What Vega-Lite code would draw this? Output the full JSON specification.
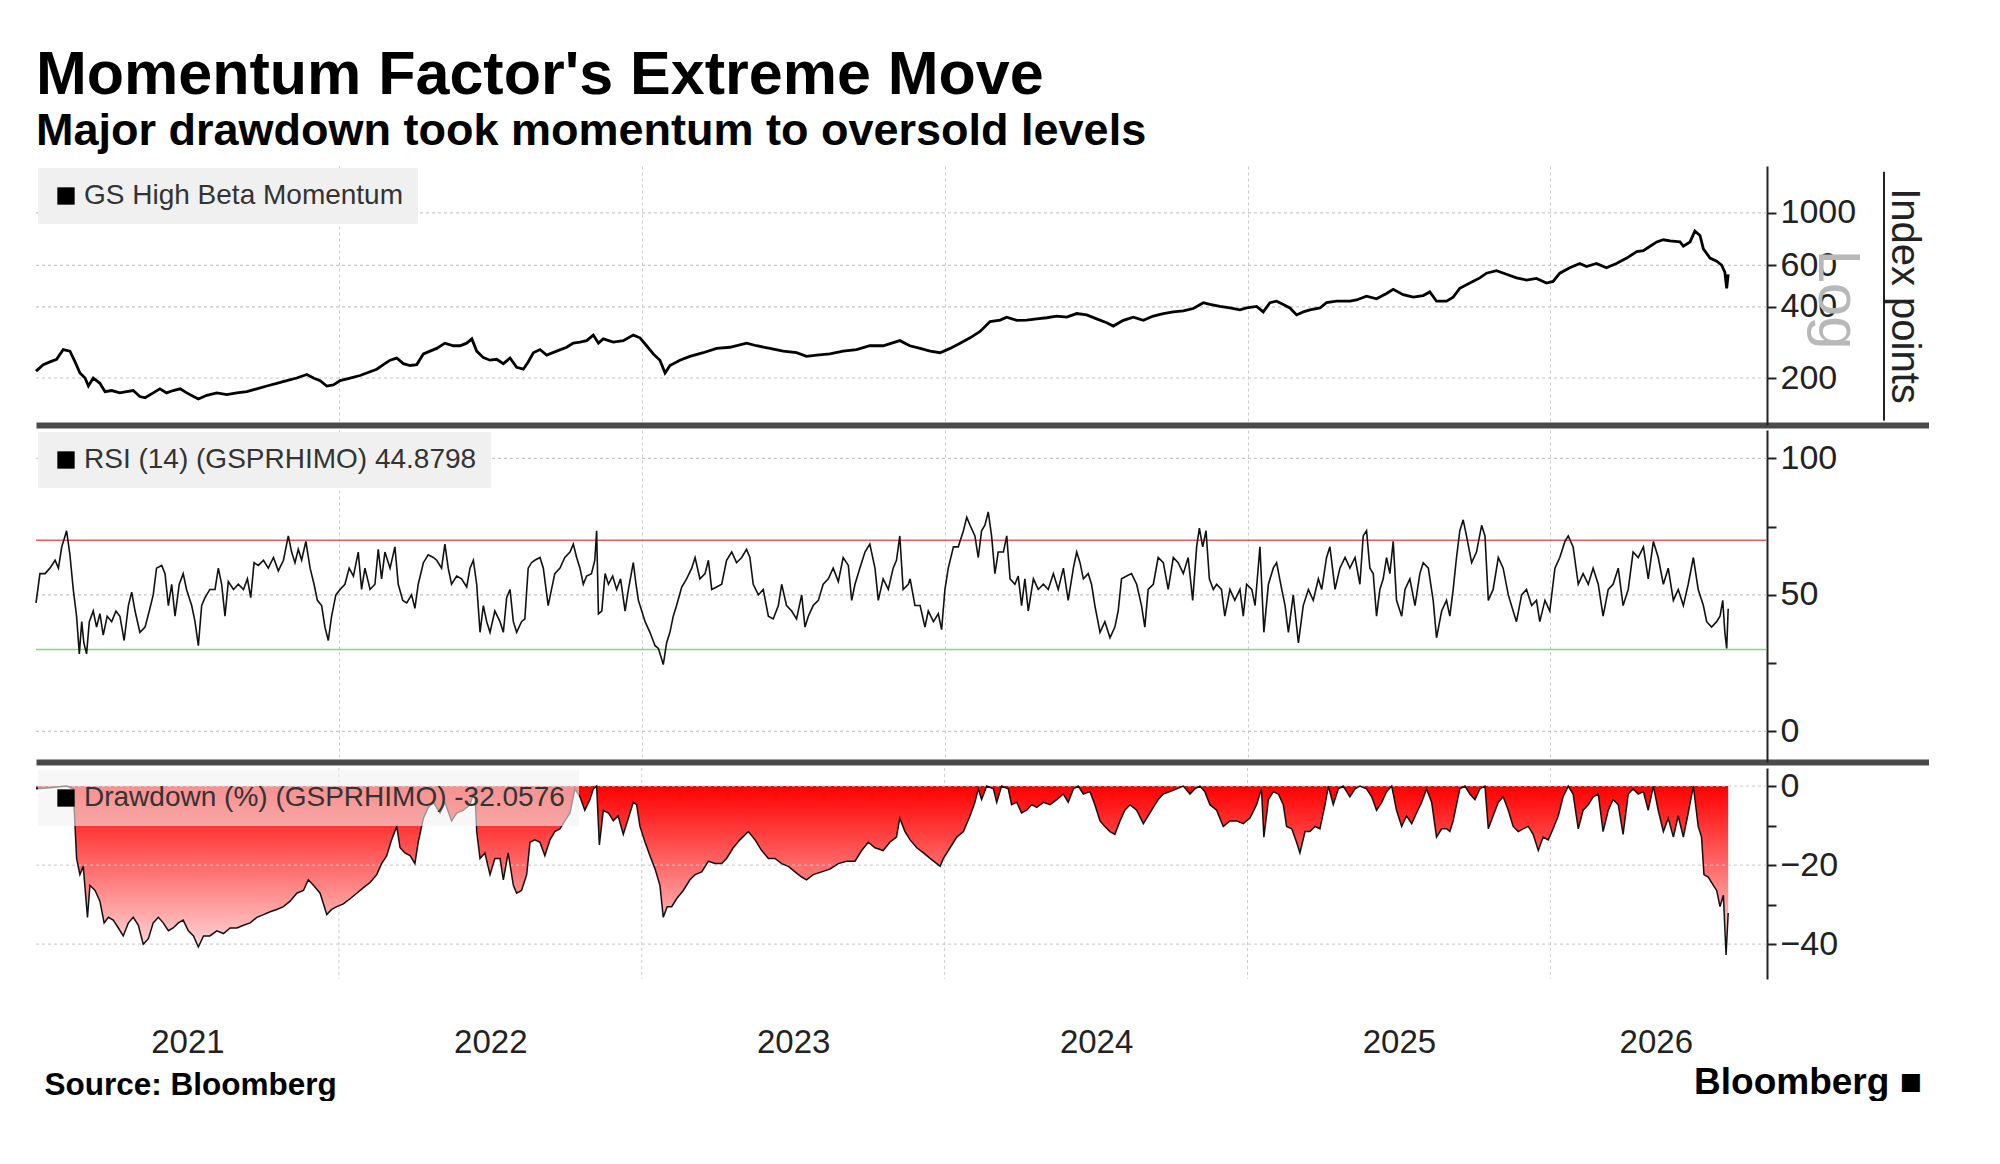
{
  "$schema": "https://vega.github.io/schema/vega-lite/v6.json",
  "background": "white",
  "padding": {"left": 30, "top": 45, "right": 0, "bottom": 0},
  "title": {
    "text": "Momentum Factor's Extreme Move",
    "subtitle": "Major drawdown took momentum to oversold levels",
    "anchor": "start",
    "frame": "group",
    "font": "Liberation Sans",
    "fontSize": 61,
    "fontWeight": "bold",
    "color": "#000000",
    "subtitleFont": "Liberation Sans",
    "subtitleFontSize": 45,
    "subtitleFontWeight": "bold",
    "subtitleColor": "#000000",
    "subtitlePadding": 2,
    "offset": 11
  },
  "datasets": {
    "price": [
      {"t":2021.000,"v":214},{"t":2021.024,"v":228},{"t":2021.046,"v":234},{"t":2021.068,"v":240},{"t":2021.090,"v":264},{"t":2021.112,"v":260},{"t":2021.129,"v":234},{"t":2021.145,"v":210},{"t":2021.162,"v":200},{"t":2021.173,"v":185},{"t":2021.189,"v":200},{"t":2021.211,"v":190},{"t":2021.228,"v":175},{"t":2021.250,"v":177},{"t":2021.277,"v":173},{"t":2021.299,"v":175},{"t":2021.321,"v":177},{"t":2021.343,"v":167},{"t":2021.360,"v":165},{"t":2021.387,"v":173},{"t":2021.409,"v":180},{"t":2021.431,"v":173},{"t":2021.453,"v":177},{"t":2021.476,"v":180},{"t":2021.498,"v":173},{"t":2021.520,"v":167},{"t":2021.536,"v":163},{"t":2021.564,"v":169},{"t":2021.597,"v":173},{"t":2021.630,"v":170},{"t":2021.663,"v":173},{"t":2021.696,"v":175},{"t":2021.729,"v":180},{"t":2021.762,"v":185},{"t":2021.795,"v":190},{"t":2021.828,"v":195},{"t":2021.861,"v":200},{"t":2021.894,"v":207},{"t":2021.916,"v":200},{"t":2021.938,"v":195},{"t":2021.960,"v":185},{"t":2021.982,"v":187},{"t":2022.004,"v":195},{"t":2022.037,"v":200},{"t":2022.070,"v":205},{"t":2022.092,"v":210},{"t":2022.125,"v":218},{"t":2022.147,"v":228},{"t":2022.169,"v":238},{"t":2022.191,"v":243},{"t":2022.213,"v":230},{"t":2022.235,"v":226},{"t":2022.257,"v":228},{"t":2022.279,"v":253},{"t":2022.301,"v":260},{"t":2022.323,"v":267},{"t":2022.350,"v":281},{"t":2022.378,"v":274},{"t":2022.400,"v":274},{"t":2022.422,"v":281},{"t":2022.439,"v":293},
      {"t":2022.455,"v":260},{"t":2022.477,"v":244},{"t":2022.499,"v":238},{"t":2022.521,"v":240},{"t":2022.543,"v":230},{"t":2022.565,"v":243},{"t":2022.587,"v":222},{"t":2022.609,"v":218},{"t":2022.625,"v":234},{"t":2022.642,"v":256},{"t":2022.664,"v":264},{"t":2022.686,"v":250},{"t":2022.719,"v":260},{"t":2022.752,"v":270},{"t":2022.774,"v":281},{"t":2022.796,"v":284},{"t":2022.818,"v":288},{"t":2022.840,"v":304},{"t":2022.857,"v":281},{"t":2022.873,"v":293},{"t":2022.906,"v":284},{"t":2022.939,"v":288},{"t":2022.972,"v":304},{"t":2022.994,"v":296},{"t":2023.016,"v":274},{"t":2023.038,"v":253},{"t":2023.060,"v":238},{"t":2023.077,"v":210},{"t":2023.093,"v":226},{"t":2023.126,"v":238},{"t":2023.159,"v":247},{"t":2023.203,"v":256},{"t":2023.247,"v":267},{"t":2023.291,"v":270},{"t":2023.346,"v":281},{"t":2023.379,"v":274},{"t":2023.423,"v":267},{"t":2023.467,"v":260},{"t":2023.511,"v":256},{"t":2023.544,"v":247},{"t":2023.577,"v":250},{"t":2023.621,"v":253},{"t":2023.665,"v":260},{"t":2023.709,"v":264},{"t":2023.753,"v":274},{"t":2023.797,"v":274},{"t":2023.852,"v":288},{"t":2023.885,"v":274},
      {"t":2023.919,"v":267},{"t":2023.952,"v":260},{"t":2023.985,"v":256},{"t":2024.018,"v":267},{"t":2024.051,"v":281},{"t":2024.084,"v":296},{"t":2024.117,"v":315},{"t":2024.150,"v":347},{"t":2024.183,"v":352},{"t":2024.205,"v":362},{"t":2024.238,"v":351},{"t":2024.271,"v":352},{"t":2024.304,"v":356},{"t":2024.337,"v":360},{"t":2024.370,"v":366},{"t":2024.403,"v":362},{"t":2024.436,"v":375},{"t":2024.469,"v":370},{"t":2024.502,"v":356},{"t":2024.535,"v":343},{"t":2024.557,"v":332},{"t":2024.590,"v":351},{"t":2024.623,"v":362},{"t":2024.656,"v":351},{"t":2024.689,"v":366},{"t":2024.722,"v":375},{"t":2024.755,"v":381},{"t":2024.788,"v":385},{"t":2024.821,"v":394},{"t":2024.854,"v":417},{"t":2024.876,"v":410},{"t":2024.909,"v":402},{"t":2024.942,"v":396},{"t":2024.975,"v":389},{"t":2024.997,"v":396},{"t":2025.030,"v":402},{"t":2025.052,"v":381},{"t":2025.074,"v":417},{"t":2025.096,"v":423},{"t":2025.118,"v":410},{"t":2025.140,"v":396},{"t":2025.162,"v":370},{"t":2025.184,"v":381},{"t":2025.206,"v":389},{"t":2025.239,"v":396},{"t":2025.261,"v":417},{"t":2025.294,"v":423},{"t":2025.316,"v":423},
      {"t":2025.338,"v":423},{"t":2025.360,"v":428},{"t":2025.393,"v":444},{"t":2025.426,"v":433},{"t":2025.459,"v":456},{"t":2025.481,"v":475},{"t":2025.514,"v":451},{"t":2025.547,"v":440},{"t":2025.580,"v":447},{"t":2025.602,"v":463},{"t":2025.624,"v":423},{"t":2025.657,"v":423},{"t":2025.679,"v":440},{"t":2025.701,"v":480},{"t":2025.734,"v":505},{"t":2025.767,"v":531},{"t":2025.789,"v":556},{"t":2025.822,"v":570},{"t":2025.855,"v":550},{"t":2025.888,"v":531},{"t":2025.921,"v":520},{"t":2025.954,"v":528},{"t":2025.987,"v":505},{"t":2026.009,"v":513},{"t":2026.031,"v":556},{"t":2026.064,"v":586},{"t":2026.097,"v":611},{"t":2026.119,"v":593},{"t":2026.152,"v":611},{"t":2026.185,"v":586},{"t":2026.218,"v":611},{"t":2026.252,"v":644},{"t":2026.285,"v":686},{"t":2026.307,"v":693},{"t":2026.329,"v":723},{"t":2026.351,"v":754},{"t":2026.373,"v":770},{"t":2026.395,"v":762},{"t":2026.428,"v":754},{"t":2026.439,"v":723},{"t":2026.461,"v":754},{"t":2026.477,"v":838},{"t":2026.494,"v":803},{"t":2026.505,"v":705},{"t":2026.527,"v":644},{"t":2026.549,"v":625},{"t":2026.565,"v":602},{"t":2026.576,"v":562},{"t":2026.582,"v":480},{"t":2026.587,"v":550}
    ],
    "rsi": [
      {"t":2021.000,"v":47.1},{"t":2021.013,"v":57.8},{"t":2021.030,"v":57.8},{"t":2021.046,"v":59.8},{"t":2021.063,"v":62.7},{"t":2021.074,"v":59.8},{"t":2021.085,"v":67.6},{"t":2021.096,"v":71.6},{"t":2021.101,"v":73.5},{"t":2021.112,"v":64.7},{"t":2021.123,"v":52.0},{"t":2021.134,"v":42.2},{"t":2021.143,"v":28.4},{"t":2021.151,"v":40.2},{"t":2021.158,"v":32.4},{"t":2021.167,"v":28.4},{"t":2021.176,"v":40.2},{"t":2021.189,"v":44.1},{"t":2021.200,"v":38.2},{"t":2021.211,"v":43.1},{"t":2021.222,"v":35.3},{"t":2021.235,"v":42.2},{"t":2021.250,"v":40.2},{"t":2021.264,"v":44.1},{"t":2021.277,"v":42.2},{"t":2021.291,"v":33.3},{"t":2021.305,"v":46.1},{"t":2021.316,"v":51.0},{"t":2021.327,"v":44.1},{"t":2021.343,"v":36.3},{"t":2021.360,"v":38.2},{"t":2021.374,"v":44.1},{"t":2021.387,"v":50.0},{"t":2021.398,"v":59.8},{"t":2021.415,"v":60.8},{"t":2021.426,"v":57.8},{"t":2021.437,"v":46.1},{"t":2021.448,"v":53.9},{"t":2021.459,"v":42.2},{"t":2021.473,"v":53.9},{"t":2021.486,"v":57.8},{"t":2021.497,"v":52.0},{"t":2021.514,"v":46.1},{"t":2021.525,"v":40.2},{"t":2021.536,"v":31.4},{"t":2021.547,"v":46.1},{"t":2021.558,"v":49.0},{"t":2021.574,"v":52.0},{"t":2021.591,"v":52.0},{"t":2021.602,"v":59.8},{"t":2021.613,"v":53.9},{"t":2021.624,"v":42.2},{"t":2021.635,"v":54.9},{"t":2021.652,"v":52.0},{"t":2021.668,"v":53.9},{"t":2021.685,"v":52.0},{"t":2021.698,"v":55.9},{"t":2021.709,"v":49.0},{"t":2021.720,"v":61.8},{"t":2021.734,"v":60.8},{"t":2021.751,"v":62.7},{"t":2021.767,"v":59.8},{"t":2021.784,"v":63.7},{"t":2021.800,"v":58.8},{"t":2021.817,"v":62.7},{"t":2021.833,"v":71.6},{"t":2021.844,"v":65.7},{"t":2021.855,"v":61.8},{"t":2021.866,"v":66.7},{"t":2021.877,"v":62.7},{"t":2021.891,"v":69.6},{"t":2021.905,"v":59.8},{"t":2021.918,"v":53.9},{"t":2021.929,"v":48.0},{"t":2021.943,"v":46.1},{"t":2021.954,"v":38.2},{"t":2021.965,"v":33.3},{"t":2021.976,"v":42.2},{"t":2021.990,"v":50.0},{"t":2022.004,"v":52.0},{"t":2022.020,"v":53.9},{"t":2022.034,"v":59.8},{"t":2022.048,"v":56.9},{"t":2022.064,"v":65.7},{"t":2022.075,"v":52.0},{"t":2022.086,"v":59.8},{"t":2022.103,"v":52.0},{"t":2022.119,"v":53.9},{"t":2022.130,"v":66.7},{"t":2022.141,"v":55.9},{"t":2022.152,"v":65.7},{"t":2022.169,"v":59.8},{"t":2022.185,"v":67.6},{"t":2022.196,"v":53.9},{"t":2022.211,"v":48.0},{"t":2022.224,"v":47.1},{"t":2022.240,"v":50.0},{"t":2022.251,"v":45.1},{"t":2022.262,"v":53.9},{"t":2022.279,"v":61.8},{"t":2022.295,"v":64.7},{"t":2022.312,"v":63.7},{"t":2022.323,"v":62.7},{"t":2022.339,"v":59.8},{"t":2022.350,"v":68.6},{"t":2022.361,"v":59.8},{"t":2022.372,"v":53.9},{"t":2022.389,"v":56.9},{"t":2022.405,"v":55.9},{"t":2022.422,"v":52.9},
      {"t":2022.433,"v":59.8},{"t":2022.444,"v":62.7},{"t":2022.455,"v":53.9},{"t":2022.466,"v":36.3},{"t":2022.477,"v":46.1},{"t":2022.488,"v":40.2},{"t":2022.499,"v":36.3},{"t":2022.515,"v":44.1},{"t":2022.532,"v":40.2},{"t":2022.543,"v":36.3},{"t":2022.554,"v":49.0},{"t":2022.565,"v":52.0},{"t":2022.576,"v":40.2},{"t":2022.587,"v":36.3},{"t":2022.603,"v":40.2},{"t":2022.614,"v":41.2},{"t":2022.625,"v":59.8},{"t":2022.636,"v":61.8},{"t":2022.647,"v":62.7},{"t":2022.664,"v":63.7},{"t":2022.675,"v":59.8},{"t":2022.691,"v":46.1},{"t":2022.702,"v":52.0},{"t":2022.713,"v":57.8},{"t":2022.730,"v":59.8},{"t":2022.746,"v":63.7},{"t":2022.763,"v":65.7},{"t":2022.774,"v":68.6},{"t":2022.785,"v":63.7},{"t":2022.796,"v":59.8},{"t":2022.807,"v":53.9},{"t":2022.818,"v":56.9},{"t":2022.834,"v":57.8},{"t":2022.845,"v":62.7},{"t":2022.851,"v":73.5},{"t":2022.857,"v":43.1},{"t":2022.868,"v":44.1},{"t":2022.879,"v":57.8},{"t":2022.890,"v":53.9},{"t":2022.904,"v":56.9},{"t":2022.917,"v":52.0},{"t":2022.930,"v":55.9},{"t":2022.945,"v":44.1},{"t":2022.956,"v":52.0},{"t":2022.972,"v":61.8},{"t":2022.981,"v":53.9},{"t":2022.989,"v":48.0},{"t":2023.000,"v":44.1},{"t":2023.011,"v":40.2},{"t":2023.027,"v":36.3},{"t":2023.044,"v":31.4},{"t":2023.055,"v":30.4},{"t":2023.071,"v":24.5},{"t":2023.082,"v":32.4},{"t":2023.093,"v":36.3},{"t":2023.104,"v":42.2},{"t":2023.115,"v":46.1},{"t":2023.132,"v":52.9},{"t":2023.148,"v":55.9},{"t":2023.165,"v":59.8},{"t":2023.176,"v":63.7},{"t":2023.192,"v":55.9},{"t":2023.209,"v":57.8},{"t":2023.220,"v":62.7},{"t":2023.231,"v":52.0},{"t":2023.247,"v":52.9},{"t":2023.264,"v":53.9},{"t":2023.280,"v":62.7},{"t":2023.297,"v":65.7},{"t":2023.313,"v":61.8},{"t":2023.330,"v":63.7},{"t":2023.346,"v":66.7},{"t":2023.357,"v":63.7},{"t":2023.368,"v":53.9},{"t":2023.385,"v":50.0},{"t":2023.401,"v":52.0},{"t":2023.418,"v":42.2},{"t":2023.434,"v":41.2},{"t":2023.451,"v":46.1},{"t":2023.462,"v":53.9},{"t":2023.478,"v":46.1},{"t":2023.495,"v":44.1},{"t":2023.511,"v":41.2},{"t":2023.528,"v":50.0},{"t":2023.539,"v":38.2},{"t":2023.550,"v":42.2},{"t":2023.566,"v":46.1},{"t":2023.583,"v":48.0},{"t":2023.599,"v":53.9},{"t":2023.616,"v":55.9},{"t":2023.632,"v":59.8},{"t":2023.649,"v":54.9},{"t":2023.665,"v":63.7},{"t":2023.682,"v":60.8},{"t":2023.693,"v":48.0},{"t":2023.704,"v":53.9},{"t":2023.720,"v":59.8},{"t":2023.737,"v":65.7},{"t":2023.753,"v":68.6},{"t":2023.770,"v":59.8},{"t":2023.781,"v":48.0},{"t":2023.797,"v":55.9},{"t":2023.814,"v":52.0},{"t":2023.830,"v":59.8},{"t":2023.841,"v":62.7},{"t":2023.852,"v":71.6},{"t":2023.863,"v":52.0},{"t":2023.880,"v":53.9},
      {"t":2023.886,"v":55.9},{"t":2023.902,"v":46.1},{"t":2023.919,"v":46.1},{"t":2023.935,"v":38.2},{"t":2023.946,"v":44.1},{"t":2023.963,"v":40.2},{"t":2023.979,"v":43.1},{"t":2023.990,"v":37.3},{"t":2024.001,"v":52.0},{"t":2024.012,"v":59.8},{"t":2024.029,"v":67.6},{"t":2024.045,"v":67.6},{"t":2024.062,"v":73.5},{"t":2024.073,"v":78.4},{"t":2024.084,"v":75.5},{"t":2024.100,"v":71.6},{"t":2024.111,"v":63.7},{"t":2024.122,"v":73.5},{"t":2024.133,"v":75.5},{"t":2024.144,"v":80.4},{"t":2024.155,"v":71.6},{"t":2024.166,"v":57.8},{"t":2024.177,"v":65.7},{"t":2024.194,"v":65.7},{"t":2024.205,"v":71.6},{"t":2024.216,"v":55.9},{"t":2024.232,"v":53.9},{"t":2024.243,"v":56.9},{"t":2024.254,"v":46.1},{"t":2024.265,"v":55.9},{"t":2024.276,"v":44.1},{"t":2024.293,"v":55.9},{"t":2024.309,"v":52.0},{"t":2024.326,"v":53.9},{"t":2024.342,"v":52.0},{"t":2024.359,"v":57.8},{"t":2024.375,"v":52.0},{"t":2024.392,"v":59.8},{"t":2024.408,"v":48.0},{"t":2024.425,"v":59.8},{"t":2024.436,"v":65.7},{"t":2024.447,"v":61.8},{"t":2024.458,"v":55.9},{"t":2024.474,"v":57.8},{"t":2024.485,"v":53.9},{"t":2024.496,"v":46.1},{"t":2024.513,"v":36.3},{"t":2024.529,"v":40.2},{"t":2024.546,"v":34.3},{"t":2024.562,"v":38.2},{"t":2024.573,"v":44.1},{"t":2024.584,"v":55.9},{"t":2024.601,"v":56.9},{"t":2024.617,"v":57.8},{"t":2024.634,"v":53.9},{"t":2024.650,"v":46.1},{"t":2024.661,"v":38.2},{"t":2024.672,"v":52.0},{"t":2024.689,"v":53.9},{"t":2024.705,"v":63.7},{"t":2024.722,"v":61.8},{"t":2024.738,"v":52.0},{"t":2024.755,"v":63.7},{"t":2024.771,"v":61.8},{"t":2024.788,"v":57.8},{"t":2024.804,"v":63.7},{"t":2024.819,"v":48.0},{"t":2024.832,"v":67.6},{"t":2024.841,"v":74.5},{"t":2024.852,"v":67.6},{"t":2024.863,"v":73.5},{"t":2024.874,"v":55.9},{"t":2024.887,"v":52.0},{"t":2024.898,"v":53.9},{"t":2024.914,"v":52.0},{"t":2024.925,"v":42.2},{"t":2024.942,"v":52.0},{"t":2024.958,"v":48.0},{"t":2024.975,"v":52.0},{"t":2024.986,"v":42.2},{"t":2024.997,"v":53.9},{"t":2025.014,"v":52.0},{"t":2025.025,"v":46.1},{"t":2025.041,"v":67.6},{"t":2025.054,"v":36.3},{"t":2025.069,"v":53.9},{"t":2025.085,"v":59.8},{"t":2025.096,"v":61.8},{"t":2025.113,"v":52.0},{"t":2025.124,"v":46.1},{"t":2025.135,"v":36.3},{"t":2025.151,"v":50.0},{"t":2025.168,"v":32.4},{"t":2025.184,"v":46.1},{"t":2025.201,"v":52.0},{"t":2025.217,"v":48.0},{"t":2025.234,"v":55.9},{"t":2025.245,"v":52.0},{"t":2025.261,"v":63.7},{"t":2025.272,"v":67.6},{"t":2025.289,"v":52.0},{"t":2025.305,"v":59.8},{"t":2025.322,"v":63.7},{"t":2025.338,"v":59.8},
      {"t":2025.355,"v":63.7},{"t":2025.371,"v":53.9},{"t":2025.382,"v":71.6},{"t":2025.393,"v":73.5},{"t":2025.404,"v":59.8},{"t":2025.415,"v":57.8},{"t":2025.426,"v":42.2},{"t":2025.437,"v":52.0},{"t":2025.448,"v":55.9},{"t":2025.459,"v":63.7},{"t":2025.470,"v":57.8},{"t":2025.481,"v":69.6},{"t":2025.492,"v":48.0},{"t":2025.509,"v":42.2},{"t":2025.520,"v":52.0},{"t":2025.536,"v":55.9},{"t":2025.553,"v":46.1},{"t":2025.569,"v":57.8},{"t":2025.580,"v":61.8},{"t":2025.597,"v":59.8},{"t":2025.613,"v":48.0},{"t":2025.624,"v":34.3},{"t":2025.641,"v":44.1},{"t":2025.657,"v":48.0},{"t":2025.668,"v":42.2},{"t":2025.679,"v":52.0},{"t":2025.690,"v":63.7},{"t":2025.701,"v":73.5},{"t":2025.712,"v":77.5},{"t":2025.723,"v":71.6},{"t":2025.740,"v":61.8},{"t":2025.756,"v":65.7},{"t":2025.773,"v":75.5},{"t":2025.784,"v":71.6},{"t":2025.795,"v":48.0},{"t":2025.811,"v":52.0},{"t":2025.828,"v":63.7},{"t":2025.844,"v":59.8},{"t":2025.861,"v":50.0},{"t":2025.877,"v":44.1},{"t":2025.888,"v":40.2},{"t":2025.905,"v":50.0},{"t":2025.921,"v":52.0},{"t":2025.938,"v":46.1},{"t":2025.954,"v":48.0},{"t":2025.965,"v":40.2},{"t":2025.982,"v":48.0},{"t":2025.998,"v":44.1},{"t":2026.015,"v":59.8},{"t":2026.031,"v":63.7},{"t":2026.048,"v":69.6},{"t":2026.059,"v":71.6},{"t":2026.075,"v":67.6},{"t":2026.092,"v":53.9},{"t":2026.108,"v":57.8},{"t":2026.125,"v":53.9},{"t":2026.141,"v":59.8},{"t":2026.158,"v":53.9},{"t":2026.174,"v":42.2},{"t":2026.191,"v":52.0},{"t":2026.207,"v":53.9},{"t":2026.224,"v":59.8},{"t":2026.240,"v":46.1},{"t":2026.257,"v":52.0},{"t":2026.273,"v":65.7},{"t":2026.290,"v":63.7},{"t":2026.307,"v":67.6},{"t":2026.323,"v":55.9},{"t":2026.340,"v":69.6},{"t":2026.356,"v":63.7},{"t":2026.373,"v":53.9},{"t":2026.389,"v":59.8},{"t":2026.406,"v":48.0},{"t":2026.422,"v":52.0},{"t":2026.439,"v":46.1},{"t":2026.455,"v":53.9},{"t":2026.472,"v":63.7},{"t":2026.488,"v":52.0},{"t":2026.505,"v":46.1},{"t":2026.516,"v":40.2},{"t":2026.532,"v":38.2},{"t":2026.549,"v":40.2},{"t":2026.560,"v":42.2},{"t":2026.569,"v":48.0},{"t":2026.576,"v":36.3},{"t":2026.582,"v":30.4},{"t":2026.587,"v":44.9}
    ],
    "dd": [
      {"t":2021.000,"v":-0.7},{"t":2021.046,"v":-0.4},{"t":2021.101,"v":0},{"t":2021.123,"v":-0.7},{"t":2021.134,"v":-18.3},{"t":2021.145,"v":-22.4},{"t":2021.156,"v":-20.3},{"t":2021.170,"v":-33.2},{"t":2021.178,"v":-25.1},{"t":2021.195,"v":-26.4},{"t":2021.211,"v":-29.1},{"t":2021.225,"v":-34.6},{"t":2021.239,"v":-33.2},{"t":2021.255,"v":-33.9},{"t":2021.272,"v":-35.9},{"t":2021.288,"v":-37.9},{"t":2021.305,"v":-34.6},{"t":2021.321,"v":-33.2},{"t":2021.338,"v":-35.2},{"t":2021.354,"v":-40.0},{"t":2021.371,"v":-38.6},{"t":2021.387,"v":-34.6},{"t":2021.404,"v":-33.2},{"t":2021.420,"v":-34.6},{"t":2021.437,"v":-36.6},{"t":2021.453,"v":-35.9},{"t":2021.470,"v":-34.6},{"t":2021.486,"v":-33.9},{"t":2021.503,"v":-36.6},{"t":2021.520,"v":-37.9},{"t":2021.536,"v":-40.7},{"t":2021.553,"v":-37.9},{"t":2021.574,"v":-37.9},{"t":2021.597,"v":-36.6},{"t":2021.619,"v":-37.3},{"t":2021.641,"v":-35.9},{"t":2021.663,"v":-35.9},{"t":2021.685,"v":-35.2},{"t":2021.707,"v":-34.6},{"t":2021.729,"v":-33.2},{"t":2021.751,"v":-32.5},{"t":2021.773,"v":-31.8},{"t":2021.795,"v":-31.2},{"t":2021.817,"v":-30.5},{"t":2021.839,"v":-29.1},{"t":2021.861,"v":-27.1},{"t":2021.883,"v":-26.4},{"t":2021.899,"v":-23.7},{"t":2021.916,"v":-25.1},{"t":2021.938,"v":-27.1},{"t":2021.960,"v":-32.5},{"t":2021.976,"v":-31.2},{"t":2021.993,"v":-30.5},{"t":2022.015,"v":-29.8},{"t":2022.037,"v":-28.5},{"t":2022.059,"v":-27.1},{"t":2022.081,"v":-25.7},{"t":2022.103,"v":-24.4},{"t":2022.125,"v":-22.4},{"t":2022.141,"v":-19.6},{"t":2022.158,"v":-17.6},{"t":2022.174,"v":-13.6},{"t":2022.191,"v":-10.2},{"t":2022.202,"v":-15.6},{"t":2022.218,"v":-16.9},{"t":2022.235,"v":-17.6},{"t":2022.251,"v":-19.6},{"t":2022.262,"v":-14.2},{"t":2022.279,"v":-8.1},{"t":2022.295,"v":-5.4},{"t":2022.312,"v":-4.1},{"t":2022.334,"v":-6.8},{"t":2022.350,"v":-4.1},{"t":2022.372,"v":-8.8},{"t":2022.389,"v":-6.8},{"t":2022.411,"v":-6.1},{"t":2022.433,"v":-4.7},{"t":2022.449,"v":-0.7},
      {"t":2022.455,"v":-11.5},{"t":2022.466,"v":-18.3},{"t":2022.482,"v":-16.9},{"t":2022.499,"v":-22.4},{"t":2022.515,"v":-18.3},{"t":2022.532,"v":-18.3},{"t":2022.543,"v":-23.7},{"t":2022.559,"v":-16.9},{"t":2022.576,"v":-25.1},{"t":2022.587,"v":-27.1},{"t":2022.603,"v":-26.4},{"t":2022.620,"v":-22.4},{"t":2022.631,"v":-14.2},{"t":2022.647,"v":-13.6},{"t":2022.664,"v":-14.2},{"t":2022.680,"v":-17.6},{"t":2022.697,"v":-13.6},{"t":2022.713,"v":-11.5},{"t":2022.730,"v":-10.8},{"t":2022.746,"v":-8.8},{"t":2022.763,"v":-6.8},{"t":2022.779,"v":-0.7},{"t":2022.796,"v":-2.7},{"t":2022.812,"v":-6.1},{"t":2022.829,"v":-3.4},{"t":2022.840,"v":-0.7},{"t":2022.851,"v":0},{"t":2022.860,"v":-14.9},{"t":2022.873,"v":-6.1},{"t":2022.890,"v":-6.8},{"t":2022.906,"v":-8.8},{"t":2022.922,"v":-7.5},{"t":2022.939,"v":-12.2},{"t":2022.956,"v":-8.1},{"t":2022.972,"v":-4.1},{"t":2022.983,"v":-4.7},{"t":2022.994,"v":-10.2},{"t":2023.011,"v":-14.2},{"t":2023.027,"v":-17.6},{"t":2023.044,"v":-21.0},{"t":2023.060,"v":-25.1},{"t":2023.071,"v":-33.2},{"t":2023.084,"v":-30.5},{"t":2023.099,"v":-30.5},{"t":2023.115,"v":-28.5},{"t":2023.137,"v":-26.4},{"t":2023.159,"v":-23.7},{"t":2023.176,"v":-22.4},{"t":2023.198,"v":-21.7},{"t":2023.220,"v":-19.0},{"t":2023.242,"v":-19.6},{"t":2023.264,"v":-19.6},{"t":2023.280,"v":-18.3},{"t":2023.302,"v":-15.6},{"t":2023.324,"v":-13.6},{"t":2023.352,"v":-11.5},{"t":2023.374,"v":-13.6},{"t":2023.396,"v":-16.3},{"t":2023.418,"v":-18.3},{"t":2023.440,"v":-18.3},{"t":2023.462,"v":-19.6},{"t":2023.484,"v":-20.3},{"t":2023.506,"v":-21.7},{"t":2023.528,"v":-23.0},{"t":2023.544,"v":-23.7},{"t":2023.566,"v":-22.4},{"t":2023.594,"v":-21.7},{"t":2023.621,"v":-21.0},{"t":2023.649,"v":-19.6},{"t":2023.676,"v":-19.0},{"t":2023.704,"v":-19.0},{"t":2023.726,"v":-16.3},{"t":2023.748,"v":-14.2},{"t":2023.770,"v":-15.6},{"t":2023.797,"v":-16.3},{"t":2023.819,"v":-14.2},{"t":2023.841,"v":-12.9},{"t":2023.852,"v":-8.1},{"t":2023.869,"v":-11.5},
      {"t":2023.886,"v":-13.6},{"t":2023.908,"v":-15.6},{"t":2023.930,"v":-16.9},{"t":2023.952,"v":-18.3},{"t":2023.974,"v":-19.6},{"t":2023.985,"v":-20.3},{"t":2023.996,"v":-18.3},{"t":2024.018,"v":-15.6},{"t":2024.040,"v":-12.9},{"t":2024.062,"v":-11.5},{"t":2024.084,"v":-7.5},{"t":2024.100,"v":-4.1},{"t":2024.111,"v":-0.7},{"t":2024.122,"v":-3.4},{"t":2024.139,"v":0},{"t":2024.161,"v":-0.7},{"t":2024.172,"v":-4.1},{"t":2024.188,"v":0},{"t":2024.210,"v":-0.7},{"t":2024.221,"v":-4.7},{"t":2024.238,"v":-4.1},{"t":2024.254,"v":-6.8},{"t":2024.271,"v":-6.1},{"t":2024.287,"v":-4.7},{"t":2024.304,"v":-5.4},{"t":2024.326,"v":-4.1},{"t":2024.348,"v":-4.7},{"t":2024.370,"v":-3.4},{"t":2024.392,"v":-2.0},{"t":2024.408,"v":-4.1},{"t":2024.425,"v":-0.7},{"t":2024.441,"v":0},{"t":2024.458,"v":-2.0},{"t":2024.480,"v":-1.4},{"t":2024.496,"v":-4.7},{"t":2024.513,"v":-8.8},{"t":2024.529,"v":-10.2},{"t":2024.546,"v":-11.5},{"t":2024.562,"v":-12.2},{"t":2024.579,"v":-8.8},{"t":2024.595,"v":-6.1},{"t":2024.612,"v":-4.7},{"t":2024.634,"v":-6.1},{"t":2024.656,"v":-9.5},{"t":2024.672,"v":-7.5},{"t":2024.689,"v":-5.4},{"t":2024.705,"v":-3.4},{"t":2024.722,"v":-2.0},{"t":2024.744,"v":-1.4},{"t":2024.766,"v":-0.7},{"t":2024.788,"v":0},{"t":2024.810,"v":-2.0},{"t":2024.826,"v":-0.7},{"t":2024.843,"v":0},{"t":2024.859,"v":-1.4},{"t":2024.876,"v":-4.7},{"t":2024.898,"v":-6.1},{"t":2024.920,"v":-10.2},{"t":2024.942,"v":-8.8},{"t":2024.964,"v":-8.8},{"t":2024.986,"v":-9.5},{"t":2025.008,"v":-8.1},{"t":2025.030,"v":-4.7},{"t":2025.046,"v":-0.7},{"t":2025.054,"v":-12.9},{"t":2025.069,"v":-3.4},{"t":2025.085,"v":-1.4},{"t":2025.102,"v":-2.0},{"t":2025.118,"v":-4.7},{"t":2025.129,"v":-10.2},{"t":2025.146,"v":-10.8},{"t":2025.162,"v":-14.2},{"t":2025.173,"v":-16.9},{"t":2025.190,"v":-11.5},{"t":2025.206,"v":-11.5},{"t":2025.223,"v":-10.2},{"t":2025.239,"v":-10.8},{"t":2025.256,"v":-4.7},{"t":2025.267,"v":0},{"t":2025.283,"v":-4.7},{"t":2025.300,"v":-0.7},{"t":2025.316,"v":0},{"t":2025.338,"v":-2.7},
      {"t":2025.355,"v":-0.7},{"t":2025.371,"v":0},{"t":2025.393,"v":-0.7},{"t":2025.410,"v":-2.7},{"t":2025.426,"v":-6.1},{"t":2025.443,"v":-4.1},{"t":2025.459,"v":-1.4},{"t":2025.476,"v":0},{"t":2025.492,"v":-6.1},{"t":2025.509,"v":-10.2},{"t":2025.525,"v":-7.5},{"t":2025.542,"v":-9.5},{"t":2025.558,"v":-6.8},{"t":2025.575,"v":-4.1},{"t":2025.591,"v":-0.7},{"t":2025.608,"v":-4.1},{"t":2025.624,"v":-12.9},{"t":2025.641,"v":-10.8},{"t":2025.657,"v":-10.8},{"t":2025.668,"v":-11.5},{"t":2025.679,"v":-8.8},{"t":2025.690,"v":-4.7},{"t":2025.701,"v":-0.7},{"t":2025.718,"v":0},{"t":2025.734,"v":-2.0},{"t":2025.751,"v":-3.4},{"t":2025.767,"v":-0.7},{"t":2025.784,"v":0},{"t":2025.795,"v":-10.8},{"t":2025.811,"v":-7.5},{"t":2025.828,"v":-4.1},{"t":2025.844,"v":-2.7},{"t":2025.861,"v":-6.1},{"t":2025.877,"v":-10.2},{"t":2025.894,"v":-11.5},{"t":2025.910,"v":-10.8},{"t":2025.927,"v":-10.2},{"t":2025.943,"v":-12.2},{"t":2025.960,"v":-16.3},{"t":2025.976,"v":-12.9},{"t":2025.993,"v":-13.6},{"t":2026.009,"v":-10.8},{"t":2026.026,"v":-7.5},{"t":2026.042,"v":-2.7},{"t":2026.059,"v":0},{"t":2026.075,"v":-2.0},{"t":2026.092,"v":-10.8},{"t":2026.108,"v":-6.1},{"t":2026.125,"v":-4.7},{"t":2026.141,"v":-2.7},{"t":2026.158,"v":-2.0},{"t":2026.174,"v":-11.5},{"t":2026.191,"v":-6.1},{"t":2026.207,"v":-3.4},{"t":2026.224,"v":-4.7},{"t":2026.240,"v":-12.2},{"t":2026.257,"v":-2.0},{"t":2026.273,"v":-0.7},{"t":2026.290,"v":-2.0},{"t":2026.307,"v":-1.4},{"t":2026.323,"v":-6.1},{"t":2026.340,"v":0},{"t":2026.356,"v":-6.1},{"t":2026.373,"v":-11.5},{"t":2026.389,"v":-8.1},{"t":2026.406,"v":-12.9},{"t":2026.422,"v":-7.5},{"t":2026.439,"v":-12.9},{"t":2026.455,"v":-6.8},{"t":2026.472,"v":0},{"t":2026.488,"v":-10.2},{"t":2026.499,"v":-12.9},{"t":2026.507,"v":-22.4},{"t":2026.521,"v":-23.0},{"t":2026.538,"v":-25.1},{"t":2026.549,"v":-26.4},{"t":2026.560,"v":-30.5},{"t":2026.571,"v":-27.6},{"t":2026.580,"v":-42.7},{"t":2026.587,"v":-32.1}
    ]
  },
  "spacing": 5,
  "resolve": {"scale": {"color": "independent"}, "legend": {"color": "independent"}},
  "vconcat": [
    {
      "width": 1893,
      "height": 259,
      "encoding": {
        "x": {"field": "t", "type": "quantitative", "scale": {"domain": [2021, 2027.25], "nice": false, "zero": false},
          "axis": {"values": [2022, 2023, 2024, 2025, 2026], "labels": false, "ticks": false, "grid": true, "gridDash": [3, 3], "gridColor": "#cccccc", "domainColor": "#4a4a4a", "domainWidth": 6, "title": null}},
        "y": {"field": "v", "type": "quantitative", "scale": {"type": "log", "domain": [126.5, 1581], "nice": false},
          "axis": {"orient": "right", "offset": -162, "values": [200, 400, 600, 1000], "format": "d", "grid": false, "tickSize": 9, "tickWidth": 2, "tickColor": "#222222", "domainColor": "#222222", "domainWidth": 2, "labelFont": "Liberation Sans", "labelFontSize": 34, "labelColor": "#222222", "labelPadding": 4, "title": "Index points", "titleFont": "Liberation Sans", "titleFontSize": 40, "titleFontWeight": "normal", "titleColor": "#222222", "titlePadding": 28}}
      },
      "layer": [
        {"data": {"values": [{"v": 1000, "a": 2021, "b": 2026.714}, {"v": 600, "a": 2021, "b": 2026.714}, {"v": 400, "a": 2021, "b": 2026.714}, {"v": 200, "a": 2021, "b": 2026.714}]},
          "mark": {"type": "rule", "color": "#c8c8c8", "strokeDash": [3, 3], "strokeWidth": 1.2},
          "encoding": {"x": {"field": "a", "type": "quantitative"}, "x2": {"field": "b"}}},
        {"data": {"values": [{"t": 2026.946, "v": 430, "label": "Log"}]},
          "mark": {"type": "text", "angle": 90, "fontSize": 60, "font": "Liberation Sans", "color": "#b8b8b8", "align": "center", "baseline": "middle"},
          "encoding": {"text": {"field": "label"}}},
        {"data": {"values": [{"t": 2027.1015, "v": 1494, "v2": 132}]},
          "mark": {"type": "rule", "color": "#222222", "strokeWidth": 2},
          "encoding": {"y2": {"field": "v2"}}},
        {"data": {"name": "price"},
          "mark": {"type": "line", "strokeWidth": 2.8},
          "encoding": {"color": {"datum": "GS High Beta Momentum", "scale": {"range": ["#000000"]},
            "legend": {"title": null, "orient": "top-left", "offset": 2, "fillColor": "#f0f0f0", "padding": 14, "symbolType": "square", "symbolSize": 300, "symbolFillColor": "#000000", "symbolStrokeColor": "#000000", "symbolStrokeWidth": 0, "labelFont": "Liberation Sans", "labelFontSize": 28, "labelColor": "#333333", "labelOffset": 4, "labelLimit": 0}}}}
      ]
    },
    {
      "width": 1893,
      "height": 332,
      "encoding": {
        "x": {"field": "t", "type": "quantitative", "scale": {"domain": [2021, 2027.25], "nice": false, "zero": false},
          "axis": {"values": [2022, 2023, 2024, 2025, 2026], "labels": false, "ticks": false, "grid": true, "gridDash": [3, 3], "gridColor": "#cccccc", "domainColor": "#4a4a4a", "domainWidth": 6, "title": null}},
        "y": {"field": "v", "type": "quantitative", "scale": {"domain": [-11.2, 110.4], "nice": false, "zero": false},
          "axis": {"orient": "right", "offset": -162, "values": [0, 25, 50, 75, 100], "labelExpr": "datum.value % 50 === 0 ? datum.label : ''", "grid": false, "tickSize": 9, "tickWidth": 2, "tickColor": "#222222", "domainColor": "#222222", "domainWidth": 2, "labelFont": "Liberation Sans", "labelFontSize": 34, "labelColor": "#222222", "labelPadding": 4, "title": null}}
      },
      "layer": [
        {"data": {"values": [{"v": 100, "a": 2021, "b": 2026.714}, {"v": 50, "a": 2021, "b": 2026.714}, {"v": 0, "a": 2021, "b": 2026.714}]},
          "mark": {"type": "rule", "color": "#c8c8c8", "strokeDash": [3, 3], "strokeWidth": 1.2},
          "encoding": {"x": {"field": "a", "type": "quantitative"}, "x2": {"field": "b"}}},
        {"data": {"values": [{"v": 70, "a": 2021, "b": 2026.714}]},
          "mark": {"type": "rule", "color": "#e06060", "strokeWidth": 1.6},
          "encoding": {"x": {"field": "a", "type": "quantitative"}, "x2": {"field": "b"}}},
        {"data": {"values": [{"v": 30, "a": 2021, "b": 2026.714}]},
          "mark": {"type": "rule", "color": "#80d880", "strokeWidth": 1.6},
          "encoding": {"x": {"field": "a", "type": "quantitative"}, "x2": {"field": "b"}}},
        {"data": {"name": "rsi"},
          "mark": {"type": "line", "strokeWidth": 1.6},
          "encoding": {"color": {"datum": "RSI (14) (GSPRHIMO) 44.8798", "scale": {"range": ["#111111"]},
            "legend": {"title": null, "orient": "top-left", "offset": 2, "fillColor": "#f0f0f0", "padding": 14, "symbolType": "square", "symbolSize": 300, "symbolFillColor": "#000000", "symbolStrokeColor": "#000000", "symbolStrokeWidth": 0, "labelFont": "Liberation Sans", "labelFontSize": 28, "labelColor": "#333333", "labelOffset": 4, "labelLimit": 0}}}}
      ]
    },
    {
      "width": 1893,
      "height": 211,
      "title": {"text": "Bloomberg ■", "orient": "bottom", "anchor": "end", "font": "Liberation Sans", "fontSize": 37, "fontWeight": "bold", "color": "#000000", "dx": -7, "dy": -36, "offset": 0},
      "encoding": {
        "x": {"field": "t", "type": "quantitative", "scale": {"domain": [2021, 2027.25], "nice": false, "zero": false},
          "axis": {"values": [2021.5, 2022.5, 2023.5, 2024.5, 2025.5, 2026.348], "labelExpr": "'' + floor(datum.value)", "labels": true, "ticks": false, "grid": false, "domain": false, "labelFont": "Liberation Sans", "labelFontSize": 33, "labelColor": "#222222", "labelPadding": 47,
            "title": "Source: Bloomberg", "titleAnchor": "start", "titleAlign": "left", "titleX": 8, "titleY": 106, "titleBaseline": "middle", "titleFont": "Liberation Sans", "titleFontSize": 31.5, "titleFontWeight": "bold", "titleColor": "#000000"}},
        "y": {"field": "v", "type": "quantitative", "scale": {"domain": [-48.8, 4.58], "nice": false, "zero": false},
          "axis": {"orient": "right", "offset": -162, "values": [0, -10, -20, -30, -40], "labelExpr": "datum.value % 20 === 0 ? datum.label : ''", "grid": false, "tickSize": 9, "tickWidth": 2, "tickColor": "#222222", "domainColor": "#222222", "domainWidth": 2, "labelFont": "Liberation Sans", "labelFontSize": 34, "labelColor": "#222222", "labelPadding": 4, "title": null}}
      },
      "layer": [
        {"data": {"values": [{"t": 2022, "v": 4.58, "v2": -48.8}, {"t": 2023, "v": 4.58, "v2": -48.8}, {"t": 2024, "v": 4.58, "v2": -48.8}, {"t": 2025, "v": 4.58, "v2": -48.8}, {"t": 2026, "v": 4.58, "v2": -48.8}]},
          "mark": {"type": "rule", "color": "#cccccc", "strokeDash": [3, 3]},
          "encoding": {"y2": {"field": "v2"}}},
        {"data": {"name": "dd"},
          "mark": {"type": "area", "fill": {"gradient": "linear", "x1": 0, "y1": 0, "x2": 0, "y2": 1, "stops": [{"offset": 0, "color": "#ff0000"}, {"offset": 1, "color": "#ffe0e0"}]}, "opacity": 1}},
        {"data": {"values": [{"v": 0, "a": 2021, "b": 2026.714}, {"v": -20, "a": 2021, "b": 2026.714}, {"v": -40, "a": 2021, "b": 2026.714}]},
          "mark": {"type": "rule", "color": "#c8c8c8", "strokeDash": [3, 3], "strokeWidth": 1.2, "opacity": 0.8},
          "encoding": {"x": {"field": "a", "type": "quantitative"}, "x2": {"field": "b"}}},
        {"data": {"name": "dd"},
          "mark": {"type": "line", "strokeWidth": 1.5},
          "encoding": {"color": {"datum": "Drawdown (%) (GSPRHIMO) -32.0576", "scale": {"range": ["#111111"]},
            "legend": {"title": null, "orient": "top-left", "offset": 2, "fillColor": "rgba(242,242,242,0.6)", "padding": 14, "symbolType": "square", "symbolSize": 300, "symbolFillColor": "#000000", "symbolStrokeColor": "#000000", "symbolStrokeWidth": 0, "labelFont": "Liberation Sans", "labelFontSize": 28, "labelColor": "#333333", "labelOffset": 4, "labelLimit": 0}}}}
      ]
    }
  ],
  "config": {
    "view": {"stroke": null},
    "font": "Liberation Sans"
  }
}
